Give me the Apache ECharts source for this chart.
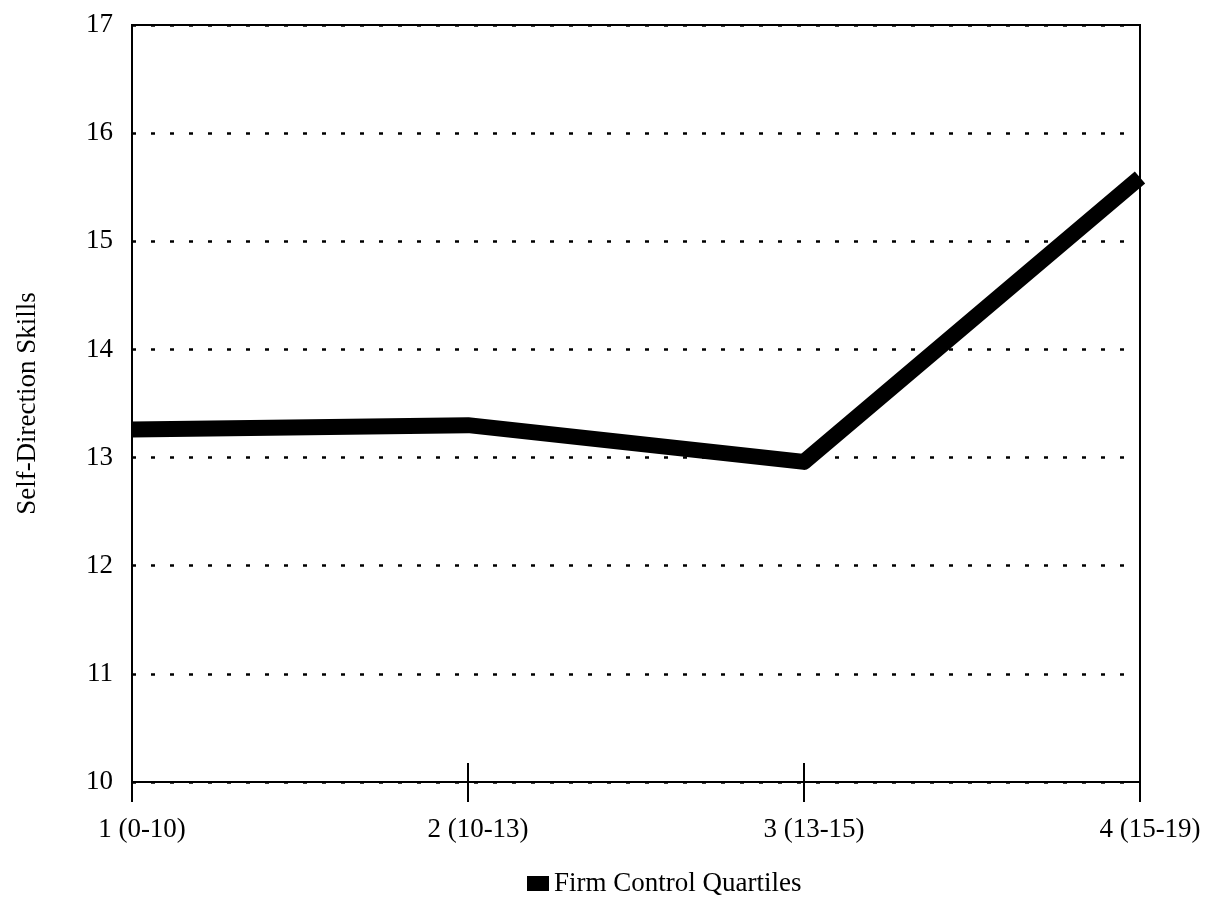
<!DOCTYPE html>
<html>
<head>
<meta charset="utf-8">
<script src="https://cdn.jsdelivr.net/npm/echarts@6/dist/echarts.min.js"></script>
<style>html,body{margin:0;padding:0;background:#fff}#c{width:1210px;height:901px}</style>
</head>
<body>
<div id="c"></div>
<script>
const categories = ['1 (0-10)', '2 (10-13)', '3 (13-15)', '4 (15-19)'];
const selfDirection = [13.26, 13.30, 12.96, 15.59];
const seriesName = 'Firm Control Quartiles';
const yAxisName = 'Self-Direction Skills';

const FONT = '"Liberation Serif", "Times New Roman", serif';
const chart = echarts.init(document.getElementById('c'), null, {renderer: 'canvas'});
chart.setOption({
  backgroundColor: '#fff',
  animation: false,
  grid: {left: 132, right: 70, top: 25, bottom: 119, show: true, borderColor: '#000', borderWidth: 2, backgroundColor: 'transparent'},
  legend: {
    data: [{name: seriesName, icon: 'rect'}],
    left: 522, top: 865,
    itemWidth: 22, itemHeight: 15,
    textStyle: {fontFamily: FONT, fontSize: 27, color: '#000'}
  },
  xAxis: [{
    type: 'category', data: categories, boundaryGap: false,
    axisLine: {lineStyle: {color: '#000', width: 2}},
    axisTick: {show: true, length: 20, lineStyle: {color: '#000', width: 2}},
    axisLabel: {fontFamily: FONT, fontSize: 27, color: '#000', margin: 34, padding: [0, 0, 0, 20]},
    splitLine: {show: false}
  }, {
    type: 'category', data: categories, boundaryGap: false, position: 'bottom',
    axisLine: {show: false},
    axisTick: {show: true, inside: true, length: 19, lineStyle: {color: '#000', width: 2}},
    axisLabel: {show: false},
    splitLine: {show: false}
  }],
  yAxis: {
    type: 'value', min: 10, max: 17, interval: 1,
    name: yAxisName, nameLocation: 'middle', nameGap: 91,
    nameTextStyle: {fontFamily: FONT, fontSize: 27, color: '#000'},
    axisLine: {show: true, lineStyle: {color: '#000', width: 2}},
    axisTick: {show: false},
    axisLabel: {fontFamily: FONT, fontSize: 27, color: '#000', margin: 19},
    splitLine: {show: true, lineStyle: {color: '#000', width: 2.5, type: [4, 15]}}
  },
  series: [{
    name: seriesName, type: 'line', data: selfDirection,
    xAxisIndex: 0,
    showSymbol: false, symbol: 'none',
    itemStyle: {color: '#000'},
    lineStyle: {color: '#000', width: 16, join: 'round'}
  }]
});
</script>
</body>
</html>
